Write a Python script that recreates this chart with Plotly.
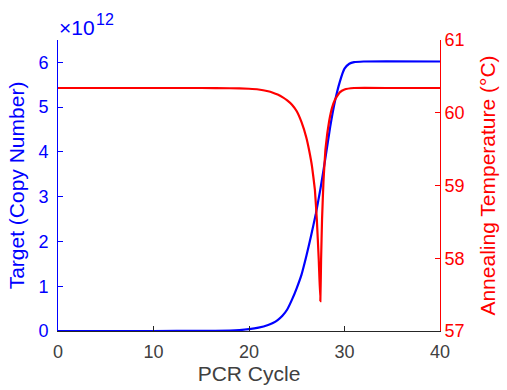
import plotly.graph_objects as go

# Target copy number (blue, left axis)
cycle_target = [0, 10, 15, 18, 19, 20, 21, 22, 22.5, 23, 23.5, 24, 24.5, 25, 25.5, 26, 26.5, 27,
                27.5, 28, 28.5, 29, 29.5, 30, 30.5, 31, 32, 40]
target_copies = [0, 0.0, 0.003e12, 0.01e12, 0.02e12, 0.04e12, 0.075e12, 0.135e12, 0.18e12,
                 0.245e12, 0.34e12, 0.48e12, 0.70e12, 0.96e12, 1.26e12, 1.67e12, 2.13e12,
                 2.62e12, 3.2e12, 3.86e12, 4.56e12, 5.13e12, 5.56e12, 5.86e12, 5.97e12,
                 6.005e12, 6.02e12, 6.02e12]

# Annealing temperature (red, right axis)
cycle_temp = [0, 5, 10, 15, 18, 20, 21, 22, 22.5, 23, 23.5, 24, 24.5, 25, 25.5, 26, 26.3,
              26.6, 26.9, 27.1, 27.3, 27.47, 27.55, 27.65, 27.8, 28.0, 28.2, 28.4, 28.7,
              29.0, 29.5, 30.0, 31, 35, 40]
anneal_temp = [60.34, 60.34, 60.34, 60.34, 60.337, 60.33, 60.32, 60.295, 60.275, 60.25,
               60.215, 60.17, 60.11, 60.02, 59.87, 59.66, 59.48, 59.26, 58.94, 58.54,
               57.99, 57.41, 57.99, 58.54, 59.06, 59.49, 59.72, 59.89, 60.07, 60.18,
               60.28, 60.32, 60.34, 60.34, 60.34]

left_ticks = [0, 1e12, 2e12, 3e12, 4e12, 5e12, 6e12]
left_tick_text = ["0", "1", "2", "3", "4", "5", "6"]
right_ticks = [57, 58, 59, 60, 61]
x_ticks = [0, 10, 20, 30, 40]

BLUE = "#0000FF"
RED = "#FF0000"
GRAY = "#262626"
FONT = "Liberation Sans, Arial, sans-serif"

fig = go.Figure()
fig.add_trace(go.Scatter(x=cycle_target, y=target_copies, mode="lines",
                         line=dict(color=BLUE, width=2.2, shape="spline", smoothing=0.5),
                         showlegend=False))
fig.add_trace(go.Scatter(x=cycle_temp, y=anneal_temp, mode="lines", yaxis="y2",
                         line=dict(color=RED, width=2.2, shape="spline", smoothing=0.3),
                         showlegend=False))

fig.update_layout(
    width=507, height=390,
    margin=dict(l=58, r=65, t=40, b=58),
    paper_bgcolor="white", plot_bgcolor="white",
    font=dict(family=FONT, size=18),
    xaxis=dict(range=[0, 40], tickvals=x_ticks, ticks="inside", ticklen=5,
               tickcolor=GRAY, linecolor=GRAY, linewidth=1, showline=True,
               showgrid=False, zeroline=False, tickfont=dict(color="#404040", size=18),
               ticklabelstandoff=4,
               title=dict(text="PCR Cycle", font=dict(color="#404040", size=21), standoff=2)),
    yaxis=dict(range=[0, 6.5e12], tickvals=left_ticks, ticktext=left_tick_text,
               ticks="inside", ticklen=5, tickcolor=BLUE, linecolor=BLUE, linewidth=1,
               showline=True, showgrid=False, zeroline=False,
               tickfont=dict(color=BLUE, size=18), ticklabelstandoff=5,
               title=dict(text="Target (Copy Number)", font=dict(color=BLUE, size=21), standoff=8)),
    yaxis2=dict(range=[57, 61], tickvals=right_ticks, overlaying="y", side="right",
                ticks="inside", ticklen=5, tickcolor=RED, linecolor=RED, linewidth=1,
                showline=True, showgrid=False, zeroline=False,
                tickfont=dict(color=RED, size=18),
                title=dict(text="Annealing Temperature (°C)", font=dict(color=RED, size=21), standoff=16)),
    annotations=[
        dict(text="×10", xref="paper", yref="paper", x=0, y=1.0,
             xanchor="left", yanchor="bottom", showarrow=False, yshift=-1, xshift=-1,
             font=dict(color=BLUE, size=21, family=FONT)),
        dict(text="12", xref="paper", yref="paper", x=0, y=1.0,
             xanchor="left", yanchor="bottom", showarrow=False, yshift=10, xshift=36,
             font=dict(color=BLUE, size=16, family=FONT)),
    ],
)

fig.write_html("out.html")
